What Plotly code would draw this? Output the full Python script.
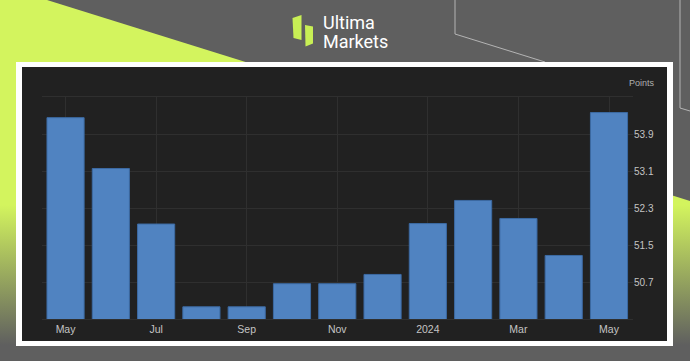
import plotly.graph_objects as go

# ---- data ----
months = ["May 2023", "Jun 2023", "Jul 2023", "Aug 2023", "Sep 2023", "Oct 2023",
          "Nov 2023", "Dec 2023", "Jan 2024", "Feb 2024", "Mar 2024", "Apr 2024", "May 2024"]
values = [54.26, 53.16, 51.96, 50.17, 50.17, 50.67, 50.67, 50.87, 51.97, 52.47, 52.08, 51.28, 54.37]
tick_pos = [0, 2, 4, 6, 8, 10, 12]
tick_text = ["May", "Jul", "Sep", "Nov", "2024", "Mar", "May"]
y_ticks = [50.7, 51.5, 52.3, 53.1, 53.9]

W, H = 690, 361
GRAY = "#5f5f5f"
LIME = "#d3f45e"
DARK = "#212121"

fig = go.Figure()

# ---- background decoration (pixel space on x/y) ----
def poly(xs, ys, color, **kw):
    fig.add_trace(go.Scatter(x=xs, y=ys, mode="lines", fill="toself", fillcolor=color,
                             line=dict(width=0), hoverinfo="skip", showlegend=False,
                             xaxis="x", yaxis="y", **kw))

# lime diagonal area with vertical fade
fig.add_trace(go.Scatter(
    x=[0, 47, 690, 690, 0, 0], y=[0, 0, 201, 361, 361, 0], mode="lines", fill="toself",
    line=dict(width=0), hoverinfo="skip", showlegend=False, xaxis="x", yaxis="y",
    fillgradient=dict(type="vertical", start=205, stop=345,
                      colorscale=[[0, LIME], [1, GRAY]])))

# thin outline lines top right
for xs, ys in [([455, 455, 545], [0, 34, 62]), ([680, 680, 690], [0, 108, 111])]:
    fig.add_trace(go.Scatter(x=xs, y=ys, mode="lines", line=dict(color="#b4b4b4", width=1),
                             hoverinfo="skip", showlegend=False, xaxis="x", yaxis="y"))

# white frame and dark panel
poly([16, 673, 673, 16, 16], [62, 62, 346, 346, 62], "#ffffff")
poly([22, 667, 667, 22, 22], [67, 67, 341, 341, 67], DARK)

# logo icon
poly([292.5, 301.5, 301.5, 293.5, 292.5], [18, 15, 40, 38, 18], "#c8ef55")
poly([305, 313, 313, 305.5, 305], [25, 26.5, 43.5, 46.5, 25], "#c8ef55")

# ---- bars ----
fig.add_trace(go.Bar(
    x=list(range(len(values))), y=values, width=0.82,
    marker=dict(color="#5083c1", line=dict(color="#3c6aa3", width=1)),
    hovertext=months, showlegend=False, xaxis="x2", yaxis="y2"))

x_dom = [42 / W, 633 / W]
y_dom = [(H - 319.3) / H, (H - 97.3) / H]

fig.update_layout(
    width=W, height=H,
    margin=dict(l=0, r=0, t=0, b=0),
    paper_bgcolor=GRAY, plot_bgcolor="rgba(0,0,0,0)",
    xaxis=dict(domain=[0, 1], range=[0, W], visible=False, fixedrange=True),
    yaxis=dict(domain=[0, 1], range=[H, 0], visible=False, fixedrange=True),
    xaxis2=dict(domain=x_dom, range=[-0.52, 12.53], anchor="y2",
                tickvals=tick_pos, ticktext=tick_text, ticks="",
                showgrid=True, gridcolor="#2f2f2f", gridwidth=1,
                showline=True, linecolor="#2f2f2f", mirror=True, zeroline=False,
                tickfont=dict(family="Liberation Sans, Arial", size=10.5, color="#c4c4c4")),
    yaxis2=dict(domain=y_dom, range=[49.9, 54.7], anchor="x2", side="right",
                tickvals=y_ticks, tickformat=".1f", ticks="",
                showgrid=True, gridcolor="#2f2f2f", gridwidth=1, zeroline=False,
                showline=False,
                tickfont=dict(family="Liberation Sans, Arial", size=10, color="#c4c4c4")),
    annotations=[
        dict(text="Points", x=642 / W, y=(H - 83) / H, xref="paper", yref="paper",
             showarrow=False, xanchor="center", yanchor="middle",
             font=dict(family="Liberation Sans, Arial", size=9, color="#b0b0b0")),
        dict(text="Ultima", x=321 / W, y=(H - 23) / H, xref="paper", yref="paper",
             showarrow=False, xanchor="left", yanchor="middle",
             font=dict(family="Roboto", size=18, color="#ffffff")),
        dict(text="Markets", x=321 / W, y=(H - 41) / H, xref="paper", yref="paper",
             showarrow=False, xanchor="left", yanchor="middle",
             font=dict(family="Roboto", size=18, color="#ffffff")),
    ],
)

fig.write_html("out.html")
